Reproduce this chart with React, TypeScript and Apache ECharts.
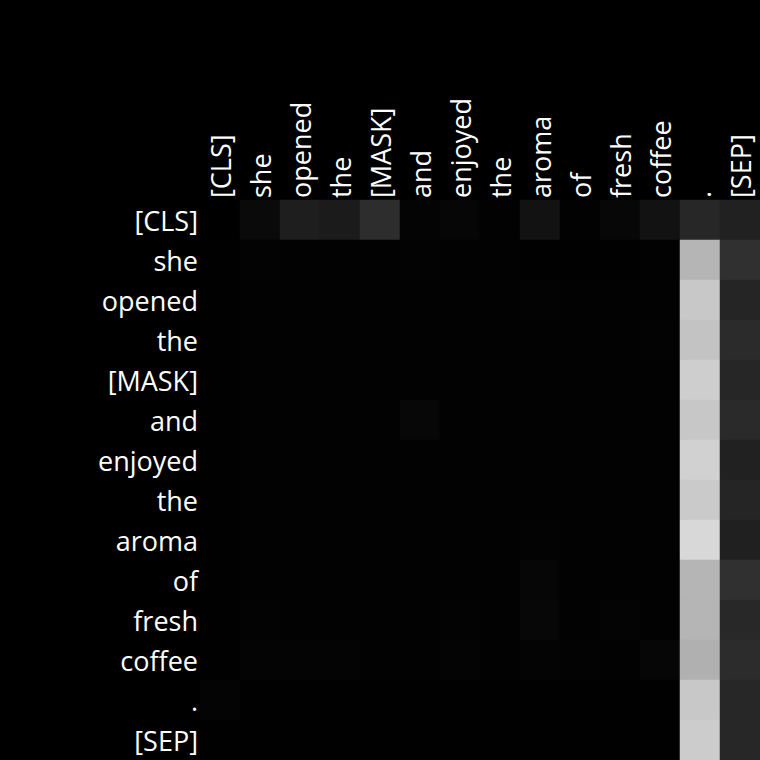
import React, { useEffect, useRef } from "react";
import * as echarts from "echarts";

const tokens = ["[CLS]", "she", "opened", "the", "[MASK]", "and", "enjoyed", "the", "aroma", "of", "fresh", "coffee", ".", "[SEP]"];

// attention weights per query row (columns = key tokens)
const rowCLS = [0.0, 0.04, 0.118, 0.106, 0.176, 0.016, 0.024, 0.008, 0.071, 0.008, 0.028, 0.071, 0.153, 0.129];
const rowShe = [0.004, 0.012, 0.006, 0.006, 0.006, 0.01, 0.006, 0.006, 0.004, 0.004, 0.004, 0.008, 0.71, 0.188];
const rowOpened = [0.004, 0.006, 0.006, 0.006, 0.006, 0.008, 0.006, 0.006, 0.01, 0.006, 0.006, 0.008, 0.784, 0.145];
const rowThe1 = [0.004, 0.006, 0.006, 0.006, 0.006, 0.008, 0.006, 0.006, 0.006, 0.006, 0.006, 0.01, 0.765, 0.169];
const rowMask = [0.004, 0.006, 0.006, 0.006, 0.006, 0.006, 0.006, 0.006, 0.006, 0.006, 0.006, 0.006, 0.808, 0.149];
const rowAnd = [0.004, 0.006, 0.006, 0.006, 0.006, 0.028, 0.006, 0.006, 0.006, 0.006, 0.006, 0.006, 0.78, 0.165];
const rowEnjoyed = [0.004, 0.008, 0.006, 0.006, 0.006, 0.006, 0.006, 0.006, 0.006, 0.006, 0.006, 0.008, 0.82, 0.129];
const rowThe2 = [0.004, 0.006, 0.006, 0.006, 0.006, 0.006, 0.006, 0.006, 0.008, 0.006, 0.006, 0.006, 0.792, 0.145];
const rowAroma = [0.004, 0.006, 0.006, 0.006, 0.006, 0.006, 0.006, 0.006, 0.01, 0.006, 0.006, 0.008, 0.847, 0.125];
const rowOf = [0.004, 0.008, 0.006, 0.006, 0.006, 0.006, 0.006, 0.006, 0.024, 0.006, 0.006, 0.006, 0.71, 0.188];
const rowFresh = [0.004, 0.01, 0.008, 0.006, 0.006, 0.006, 0.012, 0.006, 0.026, 0.008, 0.014, 0.006, 0.71, 0.157];
const rowCoffee = [0.004, 0.014, 0.014, 0.014, 0.008, 0.008, 0.014, 0.006, 0.016, 0.01, 0.008, 0.024, 0.69, 0.173];
const rowDot = [0.016, 0.004, 0.004, 0.004, 0.004, 0.004, 0.004, 0.004, 0.004, 0.004, 0.004, 0.004, 0.784, 0.153];
const rowSep = [0.004, 0.004, 0.004, 0.004, 0.004, 0.004, 0.004, 0.004, 0.004, 0.004, 0.004, 0.004, 0.8, 0.153];

const matrix = [rowCLS, rowShe, rowOpened, rowThe1, rowMask, rowAnd, rowEnjoyed, rowThe2, rowAroma, rowOf, rowFresh, rowCoffee, rowDot, rowSep];

export default function App() {
  const ref = useRef<HTMLDivElement>(null);
  useEffect(() => {
    if (!ref.current) return;
    const chart = echarts.init(ref.current, null, { renderer: "svg" });
    const data: number[][] = [];
    matrix.forEach((row, r) => row.forEach((v, c) => data.push([c, r, v])));
    const font = "Open Sans";
    chart.setOption({
      animation: false,
      backgroundColor: "#000000",
      grid: { left: 200, top: 200, right: 0, bottom: 0 },
      xAxis: {
        type: "category",
        position: "top",
        data: tokens,
        axisLine: { show: false },
        axisTick: { show: false },
        splitLine: { show: false },
        axisLabel: { rotate: -90, color: "#ffffff", fontSize: 27, fontFamily: font, margin: 2, interval: 0 },
      },
      yAxis: {
        type: "category",
        inverse: true,
        data: tokens,
        axisLine: { show: false },
        axisTick: { show: false },
        splitLine: { show: false },
        axisLabel: { color: "#ffffff", fontSize: 27, fontFamily: font, margin: 2, interval: 0 },
      },
      visualMap: {
        show: false,
        min: 0,
        max: 1,
        dimension: 2,
        inRange: { color: ["#000000", "#ffffff"] },
      },
      series: [
        {
          type: "heatmap",
          data,
          itemStyle: { borderWidth: 0 },
          emphasis: { disabled: true },
        },
      ],
    });
    return () => chart.dispose();
  }, []);
  return <div ref={ref} style={{ position: "absolute", left: 0, top: 0, width: 760, height: 760 }} />;
}
